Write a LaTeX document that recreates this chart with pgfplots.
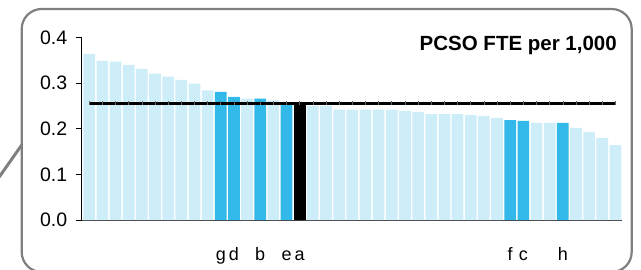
\documentclass[border=0pt]{standalone}
\usepackage{pgfplots}
\pgfplotsset{compat=1.18}
\usepackage{fontspec}
\setmainfont{Liberation Sans}
\definecolor{lb}{HTML}{CDEDF9}
\definecolor{bb}{HTML}{33B9E9}
\definecolor{fr}{HTML}{7F7F7F}
\begin{document}
\begin{tikzpicture}[x=1pt,y=1pt]
\useasboundingbox (0,0) rectangle (641,269);
\draw[fr, line width=2.2pt, rounded corners=20pt] (21.7,260) rectangle (631.7,-3);
\draw[fr, line width=3pt] (-5,86) -- (21.7,124);
\begin{axis}[
  at={(81.7pt,49pt)}, anchor=south west,
  width=540.6pt, height=182.5pt, scale only axis,
  xmin=0.43, xmax=41.52, ymin=0, ymax=0.4,
  axis x line*=bottom, axis y line*=left,
  axis line style={-},
  x axis line style={draw=black!75},
  ytick={0,0.1,0.2,0.3,0.4},
  yticklabel style={/pgf/number format/fixed, /pgf/number format/fixed zerofill, /pgf/number format/precision=1, xshift=-5pt, font=\fontsize{19.5}{19.5}\selectfont},
  /pgf/number format/assume math mode=true,
  xtick={11,12,14,16,17,33,34,37},
  xticklabels={g,d,b,e,a,f,c,h},
  x tick style={draw=none},
  y tick style={black, line width=0.6pt},
  tick align=outside, major tick length=6pt,
  xticklabel style={anchor=base, yshift=-34pt, font=\fontsize{18}{18}\selectfont},
  clip=false,
]
\addplot[ybar, bar width=11.7pt, bar shift=0pt, fill=lb, draw=none] coordinates {
(1,0.364) (2,0.349) (3,0.347) (4,0.340) (5,0.331) (6,0.321) (7,0.314) (8,0.307) (9,0.299) (10,0.284)
(13,0.266) (15,0.262) (18,0.250) (19,0.250) (20,0.242) (21,0.242) (22,0.242) (23,0.242) (24,0.242)
(25,0.239) (26,0.237) (27,0.232) (28,0.232) (29,0.232) (30,0.230) (31,0.228) (32,0.224)
(35,0.213) (36,0.213) (38,0.202) (39,0.193) (40,0.180) (41,0.164)};
\addplot[ybar, bar width=11.7pt, bar shift=0pt, fill=bb, draw=none] coordinates {
(11,0.281) (12,0.270) (14,0.266) (16,0.256) (33,0.219) (34,0.217) (37,0.213)};
\addplot[ybar, bar width=11.7pt, bar shift=0pt, fill=black, draw=none] coordinates {(17,0.253)};
\addplot[black, line width=2.6pt, mark=|, mark size=2pt, mark options={line width=0.6pt, draw=black!60}] coordinates {
(1,0.256) (2,0.256) (3,0.256) (4,0.256) (5,0.256) (6,0.256) (7,0.256) (8,0.256) (9,0.256) (10,0.256)
(11,0.256) (12,0.256) (13,0.256) (14,0.256) (15,0.256) (16,0.256) (17,0.256) (18,0.256) (19,0.256) (20,0.256)
(21,0.256) (22,0.256) (23,0.256) (24,0.256) (25,0.256) (26,0.256) (27,0.256) (28,0.256) (29,0.256) (30,0.256)
(31,0.256) (32,0.256) (33,0.256) (34,0.256) (35,0.256) (36,0.256) (37,0.256) (38,0.256) (39,0.256) (40,0.256) (41,0.256)};
\end{axis}
\node[anchor=base east, inner sep=0pt, font=\bfseries\fontsize{20.5}{20.5}\selectfont] at (617,219) {PCSO FTE per 1,000};
\end{tikzpicture}
\end{document}
